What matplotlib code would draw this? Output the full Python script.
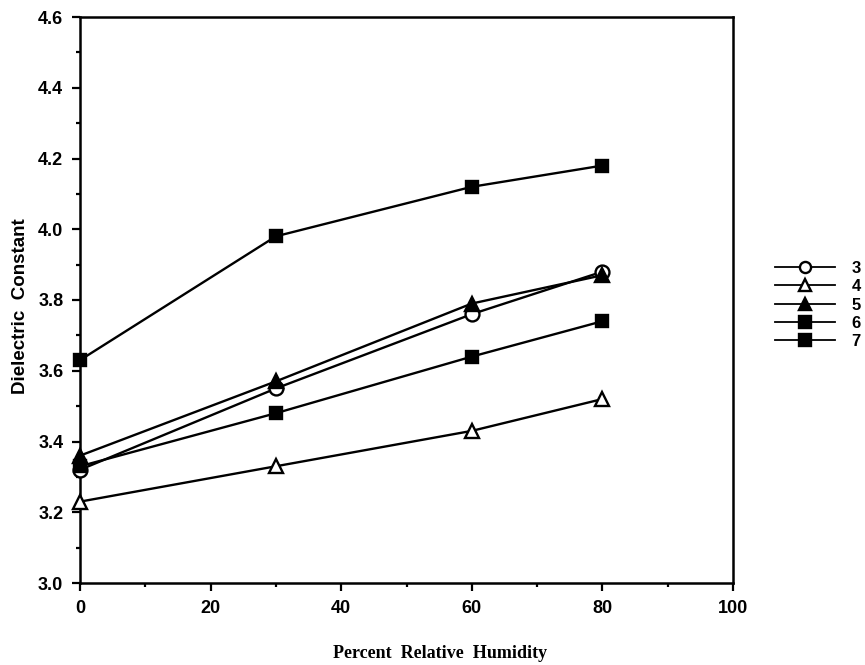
import matplotlib
matplotlib.use("Agg")
import matplotlib.pyplot as plt
from matplotlib.ticker import MultipleLocator, FormatStrFormatter

humidity = [0, 30, 60, 80]
s3 = [3.32, 3.55, 3.76, 3.88]
s4 = [3.23, 3.33, 3.43, 3.52]
s5 = [3.36, 3.57, 3.79, 3.87]
s6 = [3.33, 3.48, 3.64, 3.74]
s7 = [3.63, 3.98, 4.12, 4.18]
labels = ["3", "4", "5", "6", "7"]

plt.rcParams["font.family"] = "Liberation Sans"
plt.rcParams["font.weight"] = "bold"

fig = plt.figure(figsize=(8.65, 6.65), dpi=100)
ax = fig.add_axes([80/865, 82/665, 653/865, 566/665])

styles = [
    dict(marker="o", mfc="white", ms=10),
    dict(marker="^", mfc="white", ms=10),
    dict(marker="^", mfc="black", ms=10),
    dict(marker="s", mfc="black", ms=8),
    dict(marker="s", mfc="black", ms=8),
]
for ys, lab, st in zip([s3, s4, s5, s6, s7], labels, styles):
    ax.plot(humidity, ys, color="black", lw=1.7, mec="black", mew=1.7,
            label=lab, clip_on=False, zorder=3, **st)

ax.set_xlim(0, 100)
ax.set_ylim(3.0, 4.6)
ax.xaxis.set_major_locator(MultipleLocator(20))
ax.xaxis.set_minor_locator(MultipleLocator(10))
ax.yaxis.set_major_locator(MultipleLocator(0.2))
ax.yaxis.set_minor_locator(MultipleLocator(0.1))
ax.xaxis.set_major_formatter(FormatStrFormatter("%.0f"))
ax.yaxis.set_major_formatter(FormatStrFormatter("%.1f"))
ax.tick_params(which="major", direction="out", length=6, width=1.6, labelsize=13, pad=6)
ax.tick_params(which="minor", direction="out", length=3, width=1.6)
for sp in ax.spines.values():
    sp.set_linewidth(1.8)

ax.set_ylabel("Dielectric  Constant", fontsize=13.5, fontweight="bold")
ax.yaxis.set_label_coords(-0.078, 0.49)
fig.text(440/865, 1 - 653/665, "Percent  Relative  Humidity", ha="center", va="center",
         fontsize=13, fontweight="bold", family="Liberation Serif")

leg = fig.legend(loc="center left", bbox_to_anchor=(760/865, 1 - 305/665), frameon=False,
                 handlelength=3.6, labelspacing=0.2, handletextpad=1.0,
                 prop=dict(weight="bold", size=12))
for h in leg.legend_handles:
    h.set_markersize(8)
    h.set_linewidth(1.3)

fig.savefig("out.png", dpi=100)
